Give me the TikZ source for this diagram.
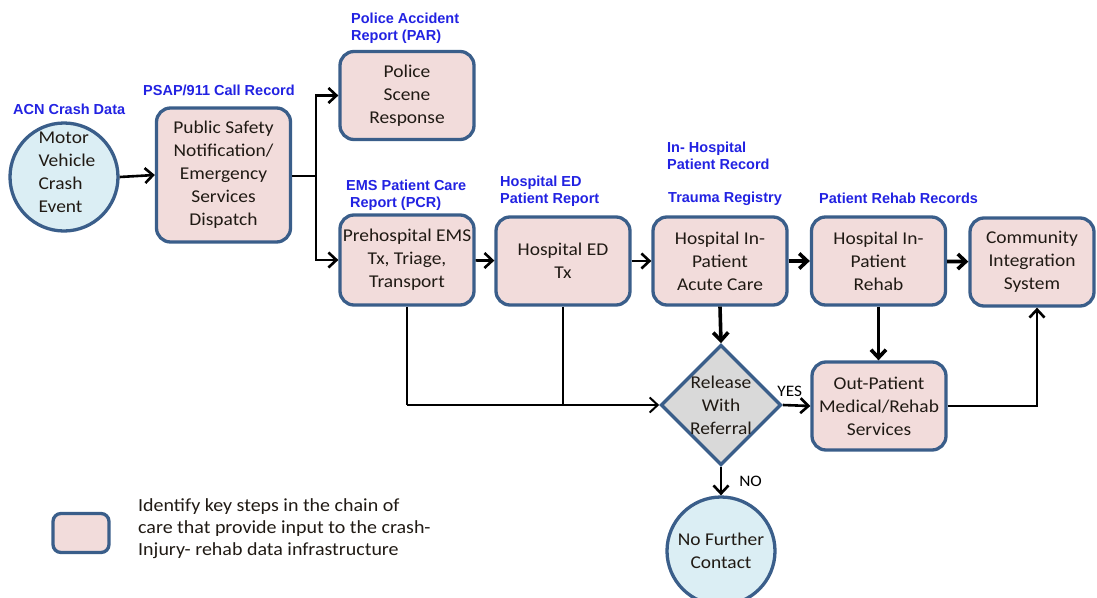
\documentclass[tikz,border=0pt]{standalone}
\usepackage{fontspec}
\setmainfont{Carlito}[FakeStretch=1.08]
\newfontfamily\lblfont{Liberation Sans}
\usetikzlibrary{shapes.geometric,arrows.meta}

\definecolor{bord}{RGB}{58,94,138}
\definecolor{pinkf}{RGB}{242,220,219}
\definecolor{bluef}{RGB}{219,238,244}
\definecolor{grayf}{RGB}{217,217,217}
\definecolor{lblue}{RGB}{34,34,226}
\definecolor{txt}{RGB}{32,26,20}

\tikzset{
  stepbox/.style={draw=bord, fill=pinkf, line width=3.3pt, rounded corners=14pt,
    minimum width=134pt, minimum height=88pt, align=center, inner sep=0pt,
    font=\fontsize{18}{23}\selectfont, text=txt},
  endcircle/.style={draw=bord, fill=bluef, line width=3.3pt, circle,
    minimum size=108pt, inner sep=0pt, align=center,
    font=\fontsize{18}{23}\selectfont, text=txt},
  decision/.style={draw=bord, fill=grayf, line width=3.3pt, diamond,
    minimum width=117pt, minimum height=118pt, inner sep=0pt, align=center,
    font=\fontsize{18}{23}\selectfont, text=txt},
  record/.style={font=\lblfont\bfseries\fontsize{14.5}{17}\selectfont,
    text=lblue, align=left, anchor=west, inner sep=0pt},
  conn/.style={line width=2.6pt, draw=black},
  thin conn/.style={line width=2pt, draw=black},
  thick conn/.style={line width=3.6pt, draw=black},
  arr/.style={-{Straight Barb[length=8pt,width=15pt]}},
  answer/.style={font=\fontsize{16}{18}\selectfont, text=black, inner sep=0pt},
}

\begin{document}
\begin{tikzpicture}[x=1pt, y=-1pt]
\useasboundingbox (0,0) rectangle (1097,597);

% process steps
\node[endcircle] (crash) at (64,177) {};
\node[align=left, inner sep=0pt, font=\fontsize{18}{23}\selectfont, text=txt]
  (crashtxt) at (67,172) {Motor\\Vehicle\\Crash\\Event};
\node[stepbox, minimum height=134pt] (psap) at (223.5,175) {Public Safety\\Notification/\\Emergency\\Services\\Dispatch};
\node[stepbox] (police) at (407,95.5) {Police\\Scene\\Response};
\node[stepbox, minimum height=90pt] (ems) at (407,260) {Prehospital EMS\\Tx, Triage,\\Transport};
\node[stepbox, minimum height=88pt] (ed) at (563,261) {Hospital ED\\Tx};
\node[stepbox] (acute) at (720,261) {Hospital In-\\Patient\\Acute Care};
\node[stepbox] (rehab) at (878.5,261) {Hospital In-\\Patient\\Rehab};
\node[stepbox, minimum width=124pt] (comm) at (1032,262) {Community\\Integration\\System};
\node[decision] (dia) at (721,405) {Release\\With\\Referral};
\node[stepbox] (out) at (879,406) {Out-Patient\\Medical/Rehab\\Services};
\node[endcircle] (nfc) at (721,551) {No Further\\Contact};

% data sources
\node[record] (acn) at (13,109) {ACN Crash Data};
\node[record] (psaprec) at (143,90) {PSAP/911 Call Record};
\node[record] (par) at (351,28) {Police Accident\\Report (PAR)};
\node[record] (pcr) at (346,195) {EMS Patient Care\\\hspace*{4pt}Report (PCR)};
\node[record] (edrep) at (500,191.5) {Hospital ED\\Patient Report};
\node[record] (ihrec) at (667,156) {In- Hospital\\Patient Record};
\node[record] (trauma) at (668,199) {Trauma Registry};
\node[record] (rehabrec) at (819,198) {Patient Rehab Records};

% legend
\node[stepbox, minimum width=56pt, minimum height=39pt, rounded corners=8pt] (legbox) at (81,533) {};
\node[align=left, anchor=west, inner sep=0pt, font=\fontsize{18.5}{22}\selectfont, text=txt]
  (legtxt) at (138,529) {Identify key steps in the chain of\\care that provide input to the crash-\\Injury- rehab data infrastructure};

% connectors
\coordinate (split) at (316,176);
\draw[conn, arr] (crash.east) -- (psap.west);
\draw[conn] (psap.east |- split) -- (split);
\draw[conn, arr] (split) |- (police.west);
\draw[conn, arr] (split) |- (ems.west);
\draw[conn, arr] (ems) -- (ed);
\draw[conn, arr] (ed) -- (acute);
\draw[thick conn, arr] (acute) -- (rehab);
\draw[thick conn, arr] (rehab) -- (comm);
\draw[thick conn, arr] (acute.south) -- (dia.north);
\draw[line width=2.8pt] (ems.south) -- (ems.south |- dia.west);
\draw[thin conn] (ems.south |- dia.west) -- (ed.south |- dia.west);
\draw[thin conn] (ed.south) -- (ed.south |- dia.west);
\draw[thin conn, arr] (ed.south |- dia.west) -- (dia.west);
\draw[conn, arr] (dia.east) -- node[answer, above=7pt, pos=0.25] (yes) {YES} (out.west);
\draw[thick conn, arr] (rehab.south) -- (rehab.south |- out.north);
\coordinate (commin) at (1037,0);
\draw[conn, arr] (out.east) -| (commin |- comm.south);
\draw[conn, arr] (dia.south) -- node[answer, right=17pt] (no) {NO} (nfc.north);
\end{tikzpicture}
\end{document}
